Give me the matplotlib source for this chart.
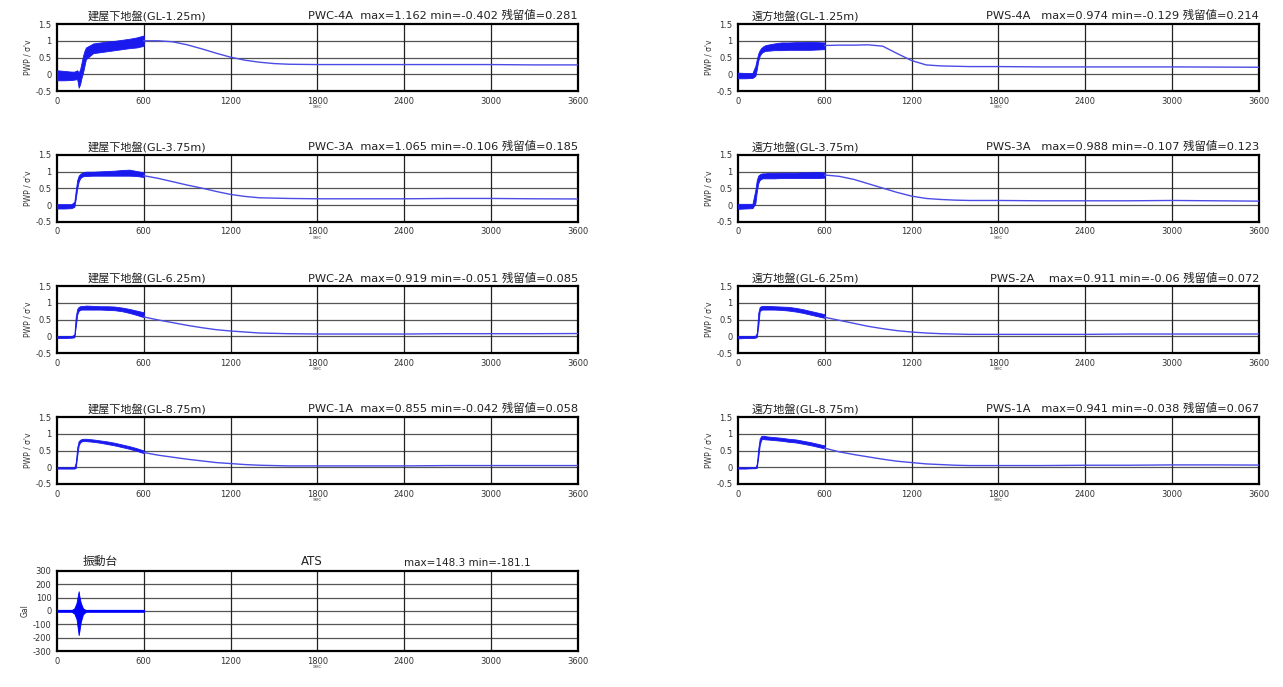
import matplotlib
matplotlib.use('Agg')
import matplotlib.pyplot as plt

plt.rcParams['font.family'] = ['DejaVu Sans', 'Noto Sans CJK JP']

# time grids (sec)
BAND_T = [0, 50, 100, 120, 130, 140, 150, 160, 170, 180, 190, 200, 250, 300, 350, 400, 450, 500, 550, 600]
LINE_T = [600, 700, 800, 900, 1000, 1100, 1200, 1300, 1400, 1500, 1600, 1800, 2100, 2400, 2700, 3000, 3300, 3600]
X_TICKS = [0, 600, 1200, 1800, 2400, 3000, 3600]

# PWC-4A  建屋下地盤 GL-1.25m
pwc4a_lo = [-0.18, -0.18, -0.17, -0.16, -0.15, -0.15, -0.40, -0.30, -0.10, 0.05, 0.25, 0.45, 0.63, 0.66, 0.69, 0.72, 0.75, 0.78, 0.80, 0.85]
pwc4a_hi = [0.12, 0.10, 0.08, 0.08, 0.10, 0.12, 0.05, 0.15, 0.35, 0.55, 0.70, 0.80, 0.92, 0.95, 0.98, 1.00, 1.03, 1.06, 1.10, 1.16]
pwc4a_line = [1.00, 1.00, 0.97, 0.88, 0.76, 0.63, 0.51, 0.42, 0.36, 0.32, 0.30, 0.29, 0.29, 0.29, 0.29, 0.29, 0.28, 0.28]

# PWS-4A  遠方地盤 GL-1.25m
pws4a_lo = [-0.12, -0.12, -0.11, -0.05, 0.15, 0.40, 0.55, 0.62, 0.66, 0.68, 0.70, 0.70, 0.72, 0.72, 0.73, 0.73, 0.73, 0.73, 0.74, 0.75]
pws4a_hi = [0.05, 0.04, 0.04, 0.25, 0.45, 0.62, 0.72, 0.78, 0.82, 0.85, 0.87, 0.88, 0.92, 0.95, 0.95, 0.96, 0.96, 0.97, 0.96, 0.95]
pws4a_line = [0.86, 0.87, 0.87, 0.88, 0.84, 0.62, 0.41, 0.28, 0.25, 0.24, 0.23, 0.23, 0.22, 0.22, 0.22, 0.22, 0.215, 0.21]

# PWC-3A  建屋下地盤 GL-3.75m
pwc3a_lo = [-0.10, -0.10, -0.09, -0.05, 0.20, 0.50, 0.70, 0.80, 0.84, 0.86, 0.87, 0.87, 0.88, 0.88, 0.88, 0.88, 0.88, 0.88, 0.87, 0.84]
pwc3a_hi = [0.03, 0.03, 0.03, 0.10, 0.45, 0.75, 0.88, 0.93, 0.96, 0.98, 0.99, 1.00, 1.00, 1.01, 1.02, 1.03, 1.05, 1.06, 1.02, 0.98]
pwc3a_line = [0.88, 0.80, 0.70, 0.60, 0.51, 0.41, 0.32, 0.26, 0.22, 0.21, 0.20, 0.19, 0.19, 0.19, 0.20, 0.20, 0.19, 0.185]

# PWS-3A  遠方地盤 GL-3.75m
pws3a_lo = [-0.11, -0.10, -0.09, 0.05, 0.40, 0.65, 0.75, 0.78, 0.80, 0.80, 0.80, 0.80, 0.80, 0.81, 0.81, 0.81, 0.81, 0.81, 0.81, 0.82]
pws3a_hi = [0.04, 0.04, 0.04, 0.45, 0.75, 0.88, 0.92, 0.94, 0.95, 0.95, 0.95, 0.96, 0.96, 0.97, 0.97, 0.97, 0.98, 0.98, 0.99, 0.97]
pws3a_line = [0.90, 0.86, 0.77, 0.64, 0.51, 0.38, 0.27, 0.20, 0.17, 0.15, 0.14, 0.14, 0.13, 0.13, 0.13, 0.14, 0.13, 0.12]

# PWC-2A  建屋下地盤 GL-6.25m
pwc2a_lo = [-0.05, -0.05, -0.04, -0.03, 0.30, 0.65, 0.76, 0.79, 0.80, 0.80, 0.80, 0.80, 0.80, 0.80, 0.79, 0.78, 0.75, 0.70, 0.64, 0.57]
pwc2a_hi = [0.01, 0.01, 0.01, 0.05, 0.60, 0.82, 0.88, 0.90, 0.91, 0.91, 0.91, 0.92, 0.91, 0.90, 0.90, 0.89, 0.86, 0.82, 0.77, 0.72]
pwc2a_line = [0.58, 0.49, 0.41, 0.33, 0.26, 0.20, 0.16, 0.13, 0.10, 0.09, 0.08, 0.07, 0.07, 0.07, 0.08, 0.08, 0.08, 0.085]

# PWS-2A  遠方地盤 GL-6.25m
pws2a_lo = [-0.06, -0.05, -0.05, -0.04, -0.02, 0.30, 0.75, 0.79, 0.80, 0.80, 0.80, 0.80, 0.80, 0.79, 0.77, 0.74, 0.70, 0.65, 0.60, 0.55]
pws2a_hi = [0.01, 0.01, 0.01, 0.02, 0.10, 0.70, 0.88, 0.90, 0.91, 0.91, 0.91, 0.91, 0.90, 0.89, 0.88, 0.85, 0.81, 0.76, 0.71, 0.66]
pws2a_line = [0.57, 0.48, 0.39, 0.30, 0.23, 0.17, 0.13, 0.10, 0.08, 0.07, 0.06, 0.06, 0.06, 0.06, 0.07, 0.07, 0.07, 0.07]

# PWC-1A  建屋下地盤 GL-8.75m
pwc1a_lo = [-0.04, -0.04, -0.04, -0.04, -0.02, 0.35, 0.65, 0.74, 0.77, 0.78, 0.78, 0.78, 0.76, 0.73, 0.69, 0.65, 0.60, 0.55, 0.49, 0.42]
pwc1a_hi = [0.00, 0.00, 0.00, 0.00, 0.15, 0.60, 0.78, 0.82, 0.84, 0.85, 0.85, 0.85, 0.83, 0.80, 0.77, 0.73, 0.68, 0.63, 0.57, 0.50]
pwc1a_line = [0.44, 0.36, 0.30, 0.24, 0.19, 0.14, 0.11, 0.08, 0.06, 0.05, 0.04, 0.04, 0.04, 0.04, 0.05, 0.05, 0.05, 0.05]

# PWS-1A  遠方地盤 GL-8.75m
pws1a_lo = [-0.04, -0.04, -0.03, -0.03, -0.02, 0.30, 0.65, 0.82, 0.84, 0.84, 0.83, 0.83, 0.81, 0.79, 0.76, 0.74, 0.70, 0.66, 0.61, 0.56]
pws1a_hi = [0.00, 0.00, 0.00, 0.00, 0.10, 0.55, 0.85, 0.93, 0.94, 0.94, 0.93, 0.92, 0.90, 0.88, 0.85, 0.83, 0.79, 0.75, 0.70, 0.65]
pws1a_line = [0.57, 0.46, 0.38, 0.31, 0.24, 0.18, 0.14, 0.10, 0.08, 0.06, 0.05, 0.05, 0.05, 0.06, 0.06, 0.07, 0.07, 0.065]

# ATS 振動台 (Gal)
ats_t = [0, 100, 120, 135, 145, 150, 155, 165, 180, 200, 600]
ats_lo = [-6, -6, -20, -60, -140, -181, -150, -80, -25, -6, -6]
ats_hi = [6, 6, 20, 60, 120, 148, 110, 60, 20, 6, 6]

left_titles = ['建屋下地盤(GL-1.25m)', '建屋下地盤(GL-3.75m)', '建屋下地盤(GL-6.25m)', '建屋下地盤(GL-8.75m)']
right_titles = ['遠方地盤(GL-1.25m)', '遠方地盤(GL-3.75m)', '遠方地盤(GL-6.25m)', '遠方地盤(GL-8.75m)']
left_info = ['PWC-4A  max=1.162 min=-0.402 残留値=0.281', 'PWC-3A  max=1.065 min=-0.106 残留値=0.185',
             'PWC-2A  max=0.919 min=-0.051 残留値=0.085', 'PWC-1A  max=0.855 min=-0.042 残留値=0.058']
right_info = ['PWS-4A   max=0.974 min=-0.129 残留値=0.214', 'PWS-3A   max=0.988 min=-0.107 残留値=0.123',
              'PWS-2A    max=0.911 min=-0.06 残留値=0.072', 'PWS-1A   max=0.941 min=-0.038 残留値=0.067']

left_data = [(pwc4a_lo, pwc4a_hi, pwc4a_line), (pwc3a_lo, pwc3a_hi, pwc3a_line),
             (pwc2a_lo, pwc2a_hi, pwc2a_line), (pwc1a_lo, pwc1a_hi, pwc1a_line)]
right_data = [(pws4a_lo, pws4a_hi, pws4a_line), (pws3a_lo, pws3a_hi, pws3a_line),
              (pws2a_lo, pws2a_hi, pws2a_line), (pws1a_lo, pws1a_hi, pws1a_line)]

BAND_C = '#1a1aee'
LINE_C = '#4b4be6'


def style_axes(ax, yticks, ylabels, ylabel):
    ax.set_xlim(0, 3600)
    ax.set_ylim(yticks[-1], yticks[0])
    ax.set_xticks(X_TICKS)
    ax.set_xticklabels([str(v) for v in X_TICKS])
    ax.set_yticks(yticks)
    ax.set_yticklabels(ylabels)
    ax.tick_params(length=0, labelsize=6, colors='#333333', pad=4)
    for y in yticks[1:-1]:
        ax.axhline(y, color='#555555', lw=0.9, zorder=1)
    for x in X_TICKS[1:-1]:
        ax.axvline(x, color='#222222', lw=0.9, zorder=1)
    for s in ax.spines.values():
        s.set_linewidth(1.6)
        s.set_color('black')
    ax.set_ylabel(ylabel, fontsize=5.5, labelpad=2, color='#333333')
    ax.set_xlabel('sec', fontsize=4, labelpad=-1, color='#555555')


fig = plt.figure(figsize=(12.83, 6.87), dpi=100)

row_bottoms = [0.8675, 0.677, 0.486, 0.2955]
ax_h = 0.0975
pwp_ticks = [1.5, 1, 0.5, 0, -0.5]
pwp_labels = ['1.5', '1', '0.5', '0', '-0.5']

for col, (left, titles, infos, data, tx) in enumerate([
        (0.0444, left_titles, left_info, left_data, 0.058),
        (0.5752, right_titles, right_info, right_data, 0.027)]):
    for r in range(4):
        ax = fig.add_axes([left, row_bottoms[r], 0.406, ax_h])
        lo, hi, line = data[r]
        ax.fill_between(BAND_T, lo, hi, color=BAND_C, lw=0.6, zorder=3)
        ax.plot(LINE_T, line, color=LINE_C, lw=1.0, zorder=3)
        style_axes(ax, pwp_ticks, pwp_labels, "PWP / σ'v")
        ax.text(tx, 1.04, titles[r], transform=ax.transAxes, ha='left', va='bottom',
                fontsize=8, color='#222222')
        ax.text(1.0, 1.04, infos[r], transform=ax.transAxes, ha='right', va='bottom',
                fontsize=8.2, color='#222222')

# shaking table
ax = fig.add_axes([0.0444, 0.0524, 0.406, 0.1165])
ax.fill_between(ats_t, ats_lo, ats_hi, color='#0000ff', lw=0.6, zorder=3)
ax.plot([0, 600], [0, 0], color='#0000ff', lw=1.6, zorder=3)
ats_ticks = [300, 200, 100, 0, -100, -200, -300]
style_axes(ax, ats_ticks, [str(v) for v in ats_ticks], 'Gal')
ax.text(0.05, 1.04, '振動台', transform=ax.transAxes, ha='left', va='bottom', fontsize=8.5, color='#222222')
ax.text(0.49, 1.04, 'ATS', transform=ax.transAxes, ha='center', va='bottom', fontsize=8.5, color='#222222')
ax.text(0.91, 1.04, 'max=148.3 min=-181.1', transform=ax.transAxes, ha='right', va='bottom',
        fontsize=7.5, color='#222222')

fig.savefig('out.png', dpi=100)
